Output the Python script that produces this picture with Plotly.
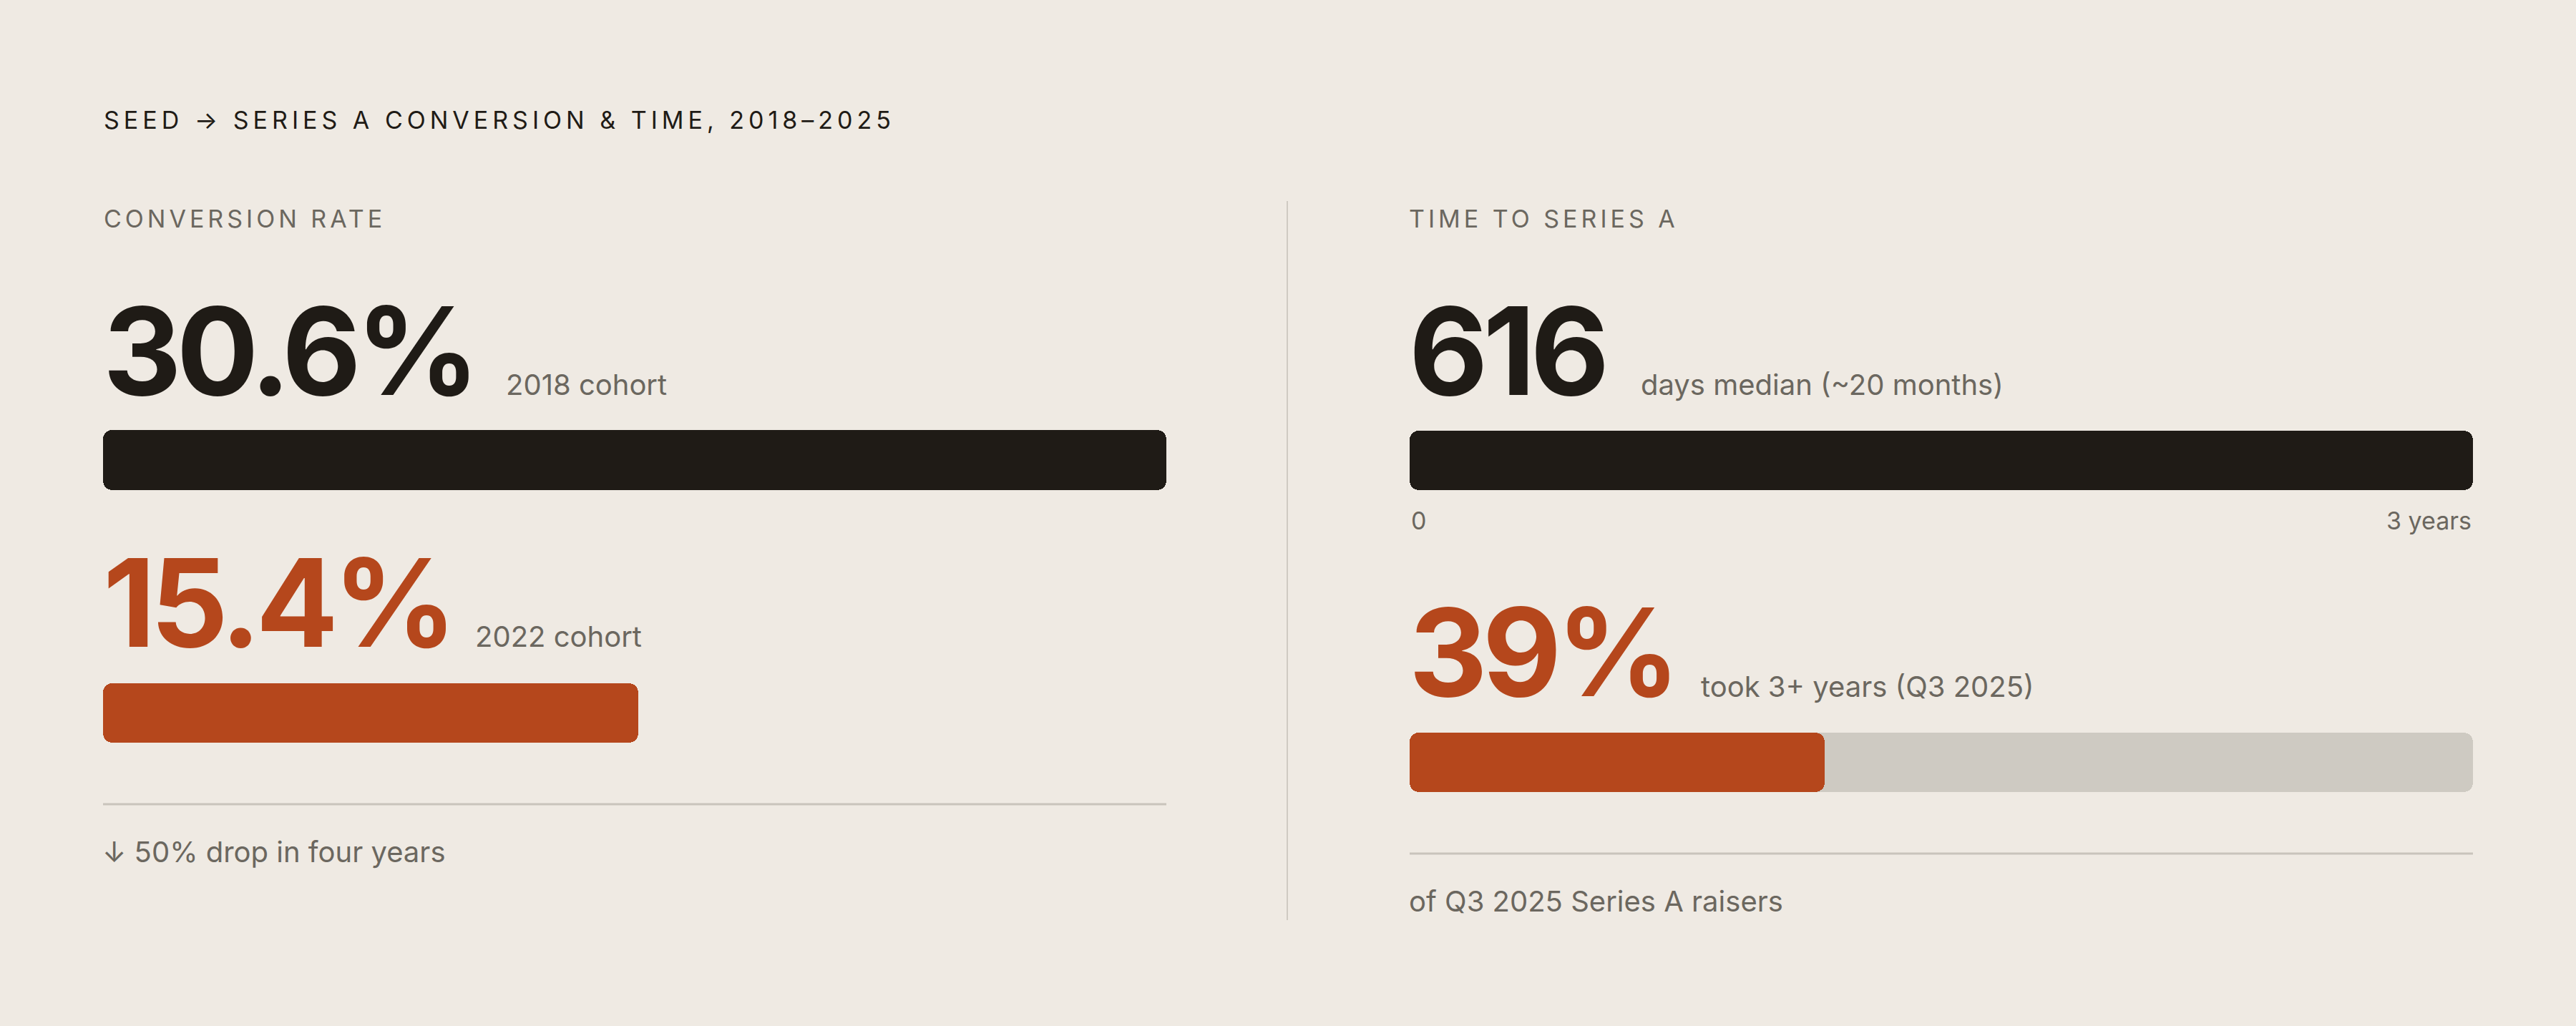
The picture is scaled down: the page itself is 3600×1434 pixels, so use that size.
import plotly.graph_objects as go

# ---------------- data ----------------
title_text = "SEED → SERIES A CONVERSION & TIME, 2018–2025"
left_label = "CONVERSION RATE"
right_label = "TIME TO SERIES A"

cohorts = ["2018 cohort", "2022 cohort"]
conversion_rates = [30.6, 15.4]          # %
conversion_note = "↓ 50% drop in four years"

median_days = 616
days_scale_max = 1095                    # 3 years in days
median_note = "days median (~20 months)"
scale_ticks = ["0", "3 years"]

share_3plus = 39                         # %
share_max = 100
share_note = "took 3+ years (Q3 2025)"
share_footer = "of Q3 2025 Series A raisers"

# ---------------- style ----------------
W, H = 3600, 1434
BG = "#efeae3"
INK = "#1f1b16"
ORANGE = "#b5471c"
TRACK = "#cecac2"
GRAY = "#6b675f"
RULE = "#c9c4bc"
FONT = "Inter"
RADIUS = 13


def px(xp):
    return xp / W


def py(yp):
    return 1 - yp / H


fig = go.Figure()

# axis layout: (name, x-domain px, y-domain px, range max)
panels = [
    ("1", (144, 1630), (601, 685), conversion_rates[0]),
    ("2", (144, 1630), (955, 1038), conversion_rates[0]),
    ("3", (1970, 3456), (602, 685), days_scale_max),
    ("4", (1970, 3456), (1024, 1107), share_max),
]
for name, (x0, x1), (y0, y1), rmax in panels:
    sfx = "" if name == "1" else name
    fig.update_layout(**{
        f"xaxis{sfx}": dict(domain=[px(x0), px(x1)], range=[0, rmax], visible=False,
                            fixedrange=True, anchor=f"y{sfx}"),
        f"yaxis{sfx}": dict(domain=[py(y1), py(y0)], range=[-0.5, 0.5], visible=False,
                            fixedrange=True, anchor=f"x{sfx}"),
    })


def bar(axis, base, length, color):
    sfx = "" if axis == "1" else axis
    fig.add_trace(go.Bar(
        x=[length], y=[0], base=[base], orientation="h", width=1,
        marker=dict(color=color, line=dict(width=0), cornerradius=RADIUS),
        xaxis=f"x{sfx}", yaxis=f"y{sfx}", showlegend=False, hoverinfo="skip",
    ))


def full_bar(axis, v, color):
    # two overlapping pieces: one rounded at the left end, one at the right end
    bar(axis, 0.6 * v, -0.6 * v, color)
    bar(axis, 0.4 * v, 0.6 * v, color)


# left: conversion bars
full_bar("1", conversion_rates[0], INK)
full_bar("2", conversion_rates[1], ORANGE)

# right: median days on 3-year scale (track + fill)
full_bar("3", days_scale_max, INK)
bar("3", median_days, -median_days, INK)

# right: share that took 3+ years (track + fill)
full_bar("4", share_max, TRACK)
bar("4", share_3plus, -share_3plus, ORANGE)

fig.update_layout(barmode="overlay", bargap=0)

ann = []


def text(x, y, t, size, color, weight=400, anchor="left", spacing=None, xref="paper"):
    if spacing is not None:
        t = f'<span style="letter-spacing:{spacing}px">{t}</span>'
    ann.append(dict(x=x if xref != "paper" else px(x), y=py(y), xref=xref, yref="paper",
                    text=t, showarrow=False, xanchor=anchor, yanchor="middle",
                    font=dict(family=FONT, size=size, color=color, weight=weight)))


text(143, 168, title_text, 34, INK, spacing=6)
text(143, 305, left_label, 34, GRAY, spacing=5)
text(1967, 305, right_label, 34, GRAY, spacing=5)

text(142, 490, f"{conversion_rates[0]}%", 170, INK, weight=700, spacing=-7)
text(705, 537, cohorts[0], 40, GRAY)
text(142, 842, f"{conversion_rates[1]}%", 170, ORANGE, weight=700, spacing=-7)
text(662, 889, cohorts[1], 40, GRAY)
text(141, 1190, conversion_note, 40, GRAY)

text(1967, 490, f"{median_days}", 170, INK, weight=700, spacing=-7)
text(2291, 537, median_note, 40, GRAY)
text(0, 727, scale_ticks[0], 34, GRAY, xref="x3")
text(days_scale_max, 727, scale_ticks[1], 34, GRAY, anchor="right", xref="x3")

text(1967, 911, f"{share_3plus}%", 170, ORANGE, weight=700, spacing=-7)
text(2375, 959, share_note, 40, GRAY)
text(1967, 1259, share_footer, 40, GRAY)

fig.update_layout(annotations=ann)

shapes = [
    dict(type="line", xref="paper", yref="paper", x0=px(144), x1=px(1630), y0=py(1124), y1=py(1124),
         line=dict(color=RULE, width=3)),
    dict(type="line", xref="paper", yref="paper", x0=px(1970), x1=px(3456), y0=py(1193), y1=py(1193),
         line=dict(color=RULE, width=3)),
    dict(type="line", xref="paper", yref="paper", x0=px(1799), x1=px(1799), y0=py(281), y1=py(1286),
         line=dict(color="#cfcac2", width=2)),
]
fig.update_layout(shapes=shapes)

fig.update_layout(
    width=W, height=H, margin=dict(l=0, r=0, t=0, b=0),
    paper_bgcolor=BG, plot_bgcolor=BG,
    font=dict(family=FONT, color=INK),
)

fig.write_html(
    "out.html",
    config={"displayModeBar": False},
    post_script="document.body.style.margin='0';document.body.style.background='%s';"
                "document.body.style.overflow='hidden';" % BG,
)
